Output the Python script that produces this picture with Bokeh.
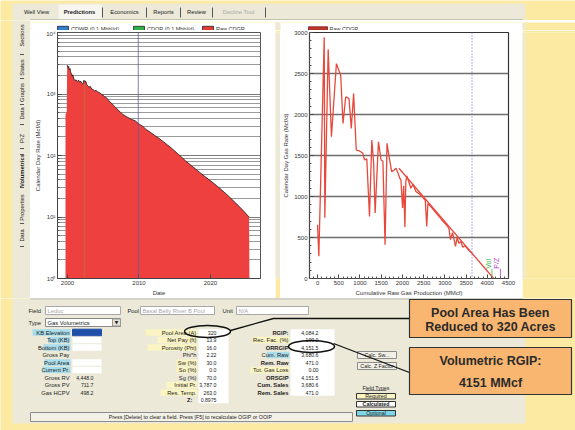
import numpy as np
from bokeh.plotting import figure
from bokeh.layouts import column, row
from bokeh.models import (Range1d, Span, FixedTicker, SingleIntervalTicker, CustomJSTickFormatter)
from bokeh.core.properties import value
from bokeh.embed import file_html
from bokeh.resources import INLINE

# ---------------- chart data ----------------
date_years = [1999.72, 1999.90, 1999.95, 2000.05, 2000.15, 2000.25, 2000.35, 2000.45, 2000.55, 2000.65,
              2000.75, 2000.90, 2001.05, 2001.20, 2001.40, 2001.55, 2001.70, 2001.85, 2002.00, 2002.15,
              2002.30, 2002.40, 2002.55, 2002.70, 2002.85, 2003.00, 2003.20, 2003.40, 2003.60, 2003.80,
              2004.00, 2004.20, 2004.45, 2004.70, 2004.95, 2005.20, 2005.45, 2005.70, 2005.95, 2006.20,
              2006.45, 2006.70, 2006.95, 2007.20, 2007.45, 2007.70, 2007.95, 2008.20, 2008.45, 2008.70,
              2008.95, 2009.20, 2009.50, 2009.80, 2010.10, 2010.50, 2011.00, 2011.60, 2012.20, 2012.80,
              2013.40, 2014.00, 2014.60, 2015.50, 2016.50, 2017.50, 2018.50, 2019.50, 2020.50, 2021.50,
              2022.50, 2023.50, 2024.50, 2025.40, 2025.45]
date_rates = [460, 520, 2950, 2700, 2820, 2500, 2600, 2250, 2150, 1950,
              2050, 1750, 1650, 1700, 1600, 1680, 1550, 1620, 1500, 1450,
              1680, 1580, 1620, 1420, 1350, 1300, 1330, 1200, 1180, 1120,
              1150, 1080, 1060, 1000, 960, 900, 870, 800, 740, 700,
              650, 610, 570, 530, 500, 470, 450, 430, 415, 400,
              385, 378, 365, 340, 320, 300, 265, 238, 212, 190,
              168, 148, 130, 105, 82, 66, 53, 43, 35, 28,
              22, 17, 13, 10, 1]
event_years = [2002.35, 2009.9]
event_rate = [1500]

cum_hist = [0, 30, 157, 171, 250, 327, 444, 545, 600, 663,
            741, 795, 850, 912, 990, 1068, 1107, 1160, 1224, 1279,
            1320, 1357, 1435, 1497, 1540, 1591, 1637, 1692, 1747, 1800,
            1848, 1900, 1940, 1965, 2004, 2030, 2058, 2080, 2105, 2150,
            2199, 2250, 2316, 2400, 2480, 2540, 2573, 2600, 2680, 2760,
            2840, 2920, 2990, 3060, 3100, 3134, 3180, 3220, 3251, 3290,
            3330, 3380, 3420, 3470, 3520, 3580, 3640]
rate_hist = [656, 271, 2943, 741, 2794, 1728, 2620, 2478, 1891, 2214,
             2195, 1830, 2255, 1567, 1555, 1527, 1445, 1460, 757, 1688,
             1420, 798, 1668, 1445, 1430, 413, 1648, 1466, 1303, 1320,
             1344, 1280, 1220, 1202, 859, 1130, 628, 1180, 1251, 1180,
             1101, 1150, 1060, 1030, 990, 950, 635, 915, 870, 820,
             770, 720, 680, 640, 600, 474, 560, 470, 392, 500,
             430, 450, 380, 400, 370, 335, 310]
cum_fcst = [1918, 4151]
rate_fcst = [1344, 0]
current_cum = 3640
marker_cum = [4110, 4310]
marker_rate = [120, 120]
marker_labels = ["Vol", "P/Z"]
marker_colors = ["#3DB54A", "#B23CC8"]

left_legend = ["CDWR (0.1 Mbbl/d)", "CDOR (0.1 Mbbl/d)", "Raw CDGR"]
left_legend_colors = ["#2F7FD2", "#2DB24A", "#E53935"]
right_legend = ["Raw CDGR"]
right_legend_colors = ["#C0392B"]

# ---------------- UI texts ----------------
tab_labels = ["Well View", "Predictions", "Economics", "Reports", "Review", "Decline Tool"]
side_tabs = ["Sections", "Status", "Graphs", "Data", "P/Z", "Volumetrics", "Properties", "Data"]
geo_labels = ["KB Elevation", "Top (KB)", "Bottom (KB)", "Gross Pay", "Pool Area", "Current Pr.",
              "Gross RV", "Gross PV", "Gas HCPV"]
geo_values = ["", "", "", "", "", "", "4,448.0", "711.7", "498.2"]
res_labels = ["Pool Area (A)", "Net Pay (ft)", "Porosity (Phi)", "Phi*h", "Sw (%)", "So (%)",
              "Sg (%)", "Initial Pr.", "Res. Temp.", "Z:"]
res_values = ["320", "13.9", "16.0", "2.22", "30.0", "0.0", "70.0", "3,787.0", "263.0", "0.8975"]
gip_labels = ["RGIP:", "Rec. Fac. (%)", "ORRGIP", "Cum. Raw", "Rem. Raw", "Tot. Gas Loss",
              "ORSGIP", "Cum. Sales", "Rem. Sales"]
gip_values = ["4,084.2", "100.0", "4,151.5", "3,680.6", "471.0", "0.00", "4,151.5", "3,680.6", "471.0"]
callout1 = ["Pool Area Has Been", "Reduced to 320 Acres"]
callout2 = ["Volumetric RGIP:", "4151 MMcf"]
status_text = "Press [Delete] to clear a field. Press [F5] to recalculate OGIP or OOIP"

# ---------------- styling ----------------
YELLOW = "#FCE9A2"
APP = "#ECE9D8"
OPT = "#A9DDEC"
REQ = "#FAF5C2"
RED = "#EF4040"
LINE_RED = "#E8483C"
FONT = value("Liberation Sans")


def ui(w, h):
    f = figure(width=w, height=h, x_range=Range1d(0, w), y_range=Range1d(h, 0),
               x_axis_type=None, y_axis_type=None, tools="", toolbar_location=None,
               output_backend="svg", min_border=0, outline_line_color=None,
               background_fill_color=YELLOW, border_fill_color=YELLOW)
    return f


def box(f, l, r, t, b, fill, line=None, lw=1):
    f.quad(left=[l], right=[r], top=[t], bottom=[b], fill_color=fill,
           line_color=line, line_width=lw)


def txt(f, x, y, s, size="5.8px", color="#222", align="left", base="middle",
        style="normal", angle=0.0, font=FONT):
    f.text(x=[x], y=[y], text=[s], text_font=font, text_font_size=size, text_color=color,
           text_align=align, text_baseline=base, text_font_style=style, angle=angle)


def style_axes(p):
    for ax in p.axis:
        ax.major_label_text_font = "Liberation Sans"
        ax.major_label_text_font_size = "6px"
        ax.major_label_text_color = "#333"
        ax.axis_label_text_font = "Liberation Sans"
        ax.axis_label_text_font_size = "6px"
        ax.axis_label_text_font_style = "normal"
        ax.axis_label_text_color = "#333"
        ax.axis_label_standoff = 2
        ax.major_label_standoff = 2
        ax.axis_line_color = "#444"
        ax.major_tick_line_color = "#444"
        ax.minor_tick_line_color = "#555"
        ax.major_tick_in = 4
        ax.major_tick_out = 0
        ax.minor_tick_in = 2
        ax.minor_tick_out = 0


# ---------------- row A : top tab bar ----------------
top = ui(575, 20)
box(top, 12, 525, 3, 20, APP)
box(top, 58, 101, 4, 20, "#F6F5EE")
tab_x = [36, 79, 124, 163, 196, 238]
for lab, x in zip(tab_labels, tab_x):
    txt(top, x, 11.5, lab, align="center",
        style="bold" if lab == "Predictions" else "normal",
        color="#A8A8A8" if lab == "Decline Tool" else "#222")
sep_x = [102, 146, 180, 212, 265]
top.segment(x0=sep_x, y0=[7] * 5, x1=sep_x, y1=[17] * 5, line_color="#555", line_width=1)
top.line([30, 522], [19.5, 19.5], line_color="#9A9A9A", line_width=1)

# ---------------- side tabs (x 0-30, y 20-298) ----------------
lt = ui(30, 278)
box(lt, 12, 30, 0, 278, APP)
side_y = [15, 47, 72, 93, 118, 150, 187, 215]
for lab, y in zip(side_tabs, side_y):
    txt(lt, 21.5, y, lab, align="center", angle=np.pi / 2,
        style="bold" if lab == "Volumetrics" else "normal")
side_sep = [34, 58, 84, 104, 128, 134, 167, 203, 226]
lt.segment(x0=[19.5] * len(side_sep), y0=side_sep,
           x1=[23.5] * len(side_sep), y1=side_sep,
           line_color="#555", line_width=1)

# ---------------- legend strip (x 30-575, y 20-30) ----------------
strip = ui(545, 10)
box(strip, 0, 245, 0, 10, "white")
box(strip, 245, 250, 0, 10, APP)
box(strip, 250, 492, 0, 10, "white")
box(strip, 492, 495, 0, 10, APP)
left_leg_x = [27, 103, 172]
for lab, c, x in zip(left_legend, left_legend_colors, left_leg_x):
    box(strip, x, x + 11, 3.8, 8.4, c, "#222", 0.8)
    txt(strip, x + 13.5, 6, lab, size="5.5px", color="#333")
right_leg_x = [278]
for lab, c, x in zip(right_legend, right_legend_colors, right_leg_x):
    box(strip, x, x + 19, 4.3, 7.8, c, "#7A1A1A", 0.8)
    txt(strip, x + 21, 6, lab, size="5.5px", color="#333")

# ---------------- left chart ----------------
pl = figure(width=245, height=268, x_range=Range1d(1998.6, 2027.0), y_range=Range1d(1, 10000),
            y_axis_type="log", tools="", toolbar_location=None, output_backend="svg",
            min_border_left=27, min_border_right=15, min_border_top=2, min_border_bottom=20,
            background_fill_color="white", border_fill_color="white",
            outline_line_color="#555", outline_line_width=1)
yt = FixedTicker(ticks=[1, 10, 100, 1000, 10000],
                 minor_ticks=[m * 10 ** e for e in range(4) for m in range(2, 10)])
pl.yaxis.ticker = yt
pl.ygrid.ticker = yt
pl.yaxis.formatter = CustomJSTickFormatter(
    code="const s=['\u2070','\u00b9','\u00b2','\u00b3','\u2074']; return '10' + s[Math.round(Math.log10(tick))];")
pl.xaxis.ticker = FixedTicker(ticks=[2000, 2010, 2020])
pl.xgrid.grid_line_color = None
pl.ygrid.grid_line_color = "#7A7A7A"
pl.ygrid.grid_line_width = 1.2
pl.ygrid.minor_grid_line_color = "#9A9A9A"
pl.ygrid.minor_grid_line_width = 1
pl.yaxis.axis_label = "Calendar Day Rate (Mcf/d)"
pl.xaxis.axis_label = "Date"
style_axes(pl)

pl.varea(x=date_years, y1=1, y2=date_rates, fill_color=RED)
pl.line(date_years[2:-1], date_rates[2:-1], line_color="#1A1A1A", line_width=0.8)
pl.segment(x0=[event_years[0]], y0=[1], x1=[event_years[0]], y1=event_rate,
           line_color="#B8743A", line_width=1, line_alpha=0.85)
pl.add_layout(Span(location=event_years[1], dimension="height", line_color="#5B5BA6",
                   line_width=0.9, line_alpha=0.85))

# ---------------- gap ----------------
gap = ui(5, 268)
box(gap, 0, 5, 0, 268, APP)

# ---------------- right chart ----------------
pr = figure(width=242, height=268, x_range=Range1d(-190, 4500), y_range=Range1d(0, 3000),
            tools="", toolbar_location=None, output_backend="svg",
            min_border_left=28, min_border_right=14, min_border_top=2, min_border_bottom=19,
            background_fill_color="white", border_fill_color="white",
            outline_line_color="#333", outline_line_width=1.2)
pr.xaxis.ticker = SingleIntervalTicker(interval=500, num_minor_ticks=5)
pr.yaxis.ticker = SingleIntervalTicker(interval=500, num_minor_ticks=5)
pr.ygrid.ticker = pr.yaxis.ticker
pr.xgrid.grid_line_color = None
pr.ygrid.grid_line_color = "#6E6E6E"
pr.ygrid.grid_line_width = 1.6
pr.yaxis.axis_label = "Calendar Day Gas Rate (Mcf/d)"
pr.xaxis.axis_label = "Cumulative Raw Gas Production (MMcf)"
style_axes(pr)

pr.add_layout(Span(location=current_cum, dimension="height", line_color="#6A5ACD",
                   line_width=1, line_dash="1 2"))
pr.line(cum_hist, rate_hist, line_color=LINE_RED, line_width=1.3)
pr.line(cum_fcst, rate_fcst, line_color=LINE_RED, line_width=1.3)
pr.segment(x0=marker_cum, y0=[0, 0], x1=marker_cum, y1=marker_rate, line_color=marker_colors,
           line_width=0.8)
pr.text(x=marker_cum, y=marker_rate, text=marker_labels, text_color=marker_colors,
        text_font=FONT, text_font_size="7px", angle=np.pi / 2, text_align="left",
        text_baseline="bottom")

# ---------------- right spacer ----------------
rs = ui(53, 268)
box(rs, 0, 3, 0, 268, APP)

# ---------------- row C : form ----------------
form = ui(575, 132)
box(form, 12, 525, 0, 125, APP)
box(form, 30, 522, 0, 0.5, "#FFFFFF", "#BDBDBD")

txt(form, 28, 12, "Field")
box(form, 45, 120, 8, 16, "white", "#A8A8A8")
txt(form, 47, 12, "Leduc", color="#A8A8A8")
txt(form, 127, 12, "Pool")
box(form, 140, 214, 8, 16, "white", "#A8A8A8")
txt(form, 142, 12, "Basal Belly River B Pool", color="#A8A8A8")
txt(form, 222, 12, "Unit")
box(form, 236, 308, 8, 16, "white", "#A8A8A8")
txt(form, 238, 12, "N/A", color="#A8A8A8")

txt(form, 28, 24, "Type")
box(form, 45, 120, 20, 28, "white", "#888888")
txt(form, 47, 24, "Gas Volumetrics")
box(form, 112, 120, 20.5, 27.5, "#E4E2D6", "#999999")
txt(form, 116, 24, "\u25bc", size="4.5px", align="center", font=value("DejaVu Sans"))

row_y = [34 + 7.5 * i for i in range(10)]
H = 3.3
VS = "5.2px"

geo_bg = [32, 48, 43, None, 44, 42, None, None, None]
geo_inputs = ["sel", "in", "in", "", "in", "in", "", "", ""]
for i, lab in enumerate(geo_labels):
    y = row_y[i]
    if geo_bg[i] is not None:
        box(form, geo_bg[i], 70, y - H, y + H, OPT)
    txt(form, 69, y, lab, align="right")
    if geo_inputs[i] == "sel":
        box(form, 72, 101, y - H, y + H, "#1F4FA8", "#1F4FA8")
    elif geo_inputs[i] == "in":
        box(form, 72, 101, y - H, y + H, "white", None)
    if geo_values[i]:
        txt(form, 93, y, geo_values[i], align="right", size=VS)

res_bg = [145, 157, 147, None, 176, 176, None, 166, 160, None]
box(form, 198, 228, row_y[0] - H, row_y[-1] + H, "white", None)
for i, lab in enumerate(res_labels):
    y = row_y[i]
    if res_bg[i] is not None:
        box(form, res_bg[i], 197, y - H, y + H, REQ)
    if lab == "Z:":
        txt(form, 192, y, lab, align="right", style="bold")
    else:
        txt(form, 196, y, lab, align="right")
    txt(form, 216, y, res_values[i], align="right", size=VS)

gip_bg = [None, 253, None, 266, None, 250, None, None, None]
gip_bg_col = [None, REQ, None, OPT, None, REQ, None, None, None]
gip_bold = [True, False, True, False, True, False, True, True, True]
box(form, 290, 334, row_y[0] - H, row_y[8] + H, "white", None)
for i, lab in enumerate(gip_labels):
    y = row_y[i]
    if gip_bg[i] is not None:
        box(form, gip_bg[i], 289, y - H, y + H, gip_bg_col[i])
    txt(form, 288, y, lab, align="right", style="bold" if gip_bold[i] else "normal")
    txt(form, 318, y, gip_values[i], align="right", size=VS)

# buttons
box(form, 357, 396, 53, 60, "#F1EFE6", "#8C8C8C")
txt(form, 376.5, 56.5, "Calc. Sw...", align="center", size="5.3px")
box(form, 357, 396, 64, 71, "#F1EFE6", "#8C8C8C")
txt(form, 376.5, 67.5, "Calc. Z Factor", align="center", size="5.3px")

# field types legend
txt(form, 375.5, 89, "Field Types", align="center", size="5.3px")
form.line([365, 386], [92, 92], line_color="#333", line_width=0.6)
box(form, 356, 395, 95, 100.5, REQ, "#333")
txt(form, 375.5, 97.8, "Required", align="center", size="5.3px")
box(form, 356, 395, 103, 108.5, "white", "#333")
txt(form, 375.5, 105.8, "Calculated", align="center", size="5.3px", style="bold")
box(form, 356, 395, 112, 117.5, "#7FD6E6", "#333")
txt(form, 375.5, 114.8, "Optional", align="center", size="5.3px")

# status bar
box(form, 30, 352, 114, 123, "#F3F1E7", "#8C8C8C")
txt(form, 190, 118.5, status_text, align="center", size="5.3px")

# callout ellipses and leader lines
form.ellipse(x=[207, 311], y=[33, 48], width=[46, 46], height=[12, 12],
             fill_color=None, line_color="#111111", line_width=1.5)
form.line([230, 273, 409], [32, 20, 20], line_color="#111111", line_width=1.3)
form.line([333, 409], [45, 74], line_color="#111111", line_width=1.3)

# callout boxes
box(form, 409, 571, 1, 39, "#F9B670", "#333333", 1.2)
txt(form, 490, 14, callout1[0], size="12.5px", style="bold", align="center", color="#2A2A2A")
txt(form, 490, 28, callout1[1], size="12.5px", style="bold", align="center", color="#2A2A2A")
box(form, 409, 571, 49, 96, "#F9B670", "#333333", 1.2)
txt(form, 490, 62, callout2[0], size="12.5px", style="bold", align="center", color="#2A2A2A")
txt(form, 490, 84, callout2[1], size="12.5px", style="bold", align="center", color="#2A2A2A")

layout = column(top,
                row(lt, column(strip, row(pl, gap, pr, rs))),
                form)

open("out.html", "w").write(file_html(layout, INLINE))
